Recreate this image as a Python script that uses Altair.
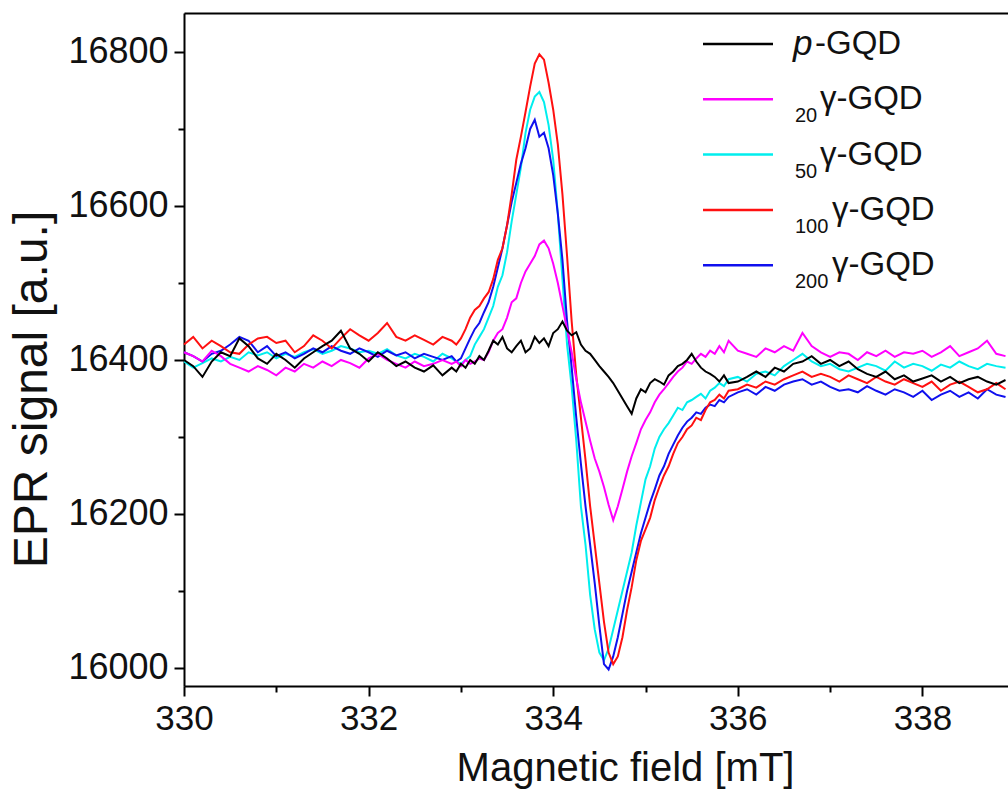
import altair as alt
import numpy as np
import pandas as pd

# ---- sampling positions (magnetic field, mT) ----
field = list(np.round(np.concatenate([
    np.arange(330.0, 332.85, 0.1),      # 330.0 .. 332.8
    np.arange(332.9, 335.925, 0.05),    # 332.9 .. 335.9
    np.arange(336.0, 338.95, 0.1),      # 336.0 .. 338.9
]), 2))

# ---- EPR signal values ----
p_gqd = [
    16400, 16392, 16378, 16398, 16410, 16405, 16428, 16418, 16402, 16395,
    16408, 16400, 16390, 16402, 16410, 16418, 16425, 16438, 16415, 16408,
    16398, 16410, 16402, 16392, 16398, 16390, 16385, 16393, 16380,
    16390, 16385, 16395, 16390, 16400, 16395, 16405, 16400, 16412, 16425,
    16420, 16430, 16415, 16410, 16418, 16425, 16410, 16415, 16430, 16422,
    16428, 16418, 16435, 16440, 16450, 16438, 16432, 16436, 16420, 16412,
    16408, 16400, 16392, 16385, 16378, 16370, 16360, 16350, 16340, 16330,
    16350, 16362, 16358, 16370, 16375, 16372, 16368, 16380, 16385, 16392,
    16395, 16400, 16408, 16398, 16390, 16385, 16382, 16378, 16372, 16380,
    16370,
    16372, 16378, 16385, 16378, 16390, 16385, 16395, 16398, 16405, 16395,
    16400, 16392, 16398, 16388, 16382, 16378, 16385, 16375, 16380, 16372,
    16376, 16380, 16372, 16378, 16370, 16375, 16378, 16372, 16368, 16374,
]
g20 = [
    16410, 16405, 16398, 16412, 16405, 16395, 16390, 16385, 16392, 16387,
    16380, 16390, 16385, 16395, 16390, 16398, 16392, 16400, 16396, 16390,
    16402, 16408, 16400, 16395, 16390, 16398, 16392, 16395, 16400,
    16395, 16398, 16392, 16400, 16395, 16398, 16402, 16400, 16410, 16425,
    16435, 16440, 16455, 16475, 16480, 16500, 16515, 16525, 16535, 16550,
    16555, 16545, 16525, 16500, 16470, 16440, 16410, 16375, 16345, 16320,
    16295, 16272, 16255, 16235, 16212, 16192, 16210, 16232, 16255, 16275,
    16292, 16310, 16322, 16332, 16345, 16355, 16362, 16370, 16378, 16385,
    16390, 16398, 16395, 16402, 16408, 16404, 16412, 16408, 16418, 16410,
    16425,
    16412, 16408, 16404, 16415, 16410, 16418, 16412, 16435, 16418, 16410,
    16404, 16410, 16408, 16400, 16410, 16405, 16412, 16404, 16410, 16408,
    16412, 16404, 16410, 16418, 16405, 16410, 16415, 16425, 16408, 16405,
]
g50 = [
    16398, 16390, 16396, 16402, 16398, 16404, 16400, 16410, 16406, 16410,
    16402, 16408, 16404, 16410, 16414, 16408, 16412, 16418, 16415, 16410,
    16412, 16408, 16414, 16406, 16402, 16408, 16404, 16398, 16408,
    16402, 16398, 16395, 16400, 16405, 16420, 16430, 16440, 16455, 16470,
    16495, 16510, 16540, 16580, 16615, 16650, 16695, 16725, 16742, 16748,
    16735, 16705, 16660, 16590, 16505, 16420, 16365, 16295, 16210, 16160,
    16095, 16050, 16020, 16010, 16025, 16050, 16075, 16100, 16125, 16150,
    16185, 16215, 16245, 16262, 16285, 16300, 16310, 16318, 16328, 16338,
    16335, 16345, 16348, 16352, 16356, 16350, 16360, 16364, 16370, 16366,
    16375,
    16378, 16372, 16382, 16385, 16380, 16392, 16400, 16408, 16398, 16392,
    16395, 16388, 16385, 16390, 16395, 16392, 16386, 16398, 16390, 16395,
    16392, 16386, 16394, 16390, 16398, 16392, 16388, 16395, 16392, 16390,
]
g100 = [
    16420, 16430, 16415, 16425, 16418, 16410, 16408, 16420, 16428, 16430,
    16422, 16425, 16410, 16418, 16432, 16425, 16415, 16428, 16440, 16432,
    16425, 16435, 16448, 16430, 16425, 16432, 16426, 16420, 16430,
    16425, 16420, 16428, 16440, 16455, 16465, 16470, 16480, 16488, 16505,
    16530, 16545, 16575, 16615, 16660, 16690, 16722, 16755, 16785, 16797,
    16790, 16760, 16725, 16680, 16615, 16535, 16450, 16380, 16325, 16270,
    16210, 16160, 16110, 16060, 16020, 16005, 16015, 16040, 16075, 16105,
    16140, 16165, 16180, 16195, 16218, 16235, 16250, 16262, 16278, 16292,
    16300, 16310, 16315, 16325, 16322, 16335, 16345, 16348, 16355, 16350,
    16360,
    16362, 16368, 16364, 16372, 16368, 16375, 16380, 16385, 16378, 16382,
    16378, 16372, 16380, 16375, 16370, 16378, 16372, 16368, 16375, 16370,
    16365, 16372, 16360, 16368, 16372, 16365, 16358, 16362, 16370, 16362,
]
g200 = [
    16410, 16405, 16398, 16408, 16412, 16420, 16430, 16425, 16410, 16418,
    16405, 16410, 16402, 16408, 16415, 16410, 16418, 16412, 16408, 16415,
    16410, 16404, 16412, 16406, 16410, 16402, 16408, 16404, 16400,
    16405, 16398, 16402, 16415, 16428, 16440, 16448, 16462, 16475, 16495,
    16520, 16545, 16575, 16605, 16630, 16655, 16675, 16700, 16712, 16690,
    16695, 16675, 16640, 16590, 16530, 16450, 16390, 16325, 16265, 16210,
    16160, 16110, 16055, 16005, 15998, 16015, 16040, 16070, 16100, 16125,
    16150, 16175, 16195, 16215, 16232, 16250, 16262, 16278, 16290, 16302,
    16312, 16320, 16325, 16332, 16330, 16338, 16342, 16340, 16348, 16345,
    16352,
    16358, 16362, 16355, 16365, 16360, 16368, 16372, 16375, 16368, 16372,
    16365, 16360, 16362, 16358, 16366, 16360, 16355, 16362, 16358, 16352,
    16360, 16348, 16355, 16360, 16352, 16358, 16350, 16362, 16355, 16352,
]

series_keys = ["p", "g20", "g50", "g100", "g200"]
series_vals = [p_gqd, g20, g50, g100, g200]
series_colors = ["#000000", "#ff00ff", "#00eeee", "#ff1010", "#1010ee"]
legend_lead = ["p", "", "", "", ""]
legend_sub = ["", "20", "50", "100", "200"]
legend_main = ["-GQD", "γ-GQD", "γ-GQD", "γ-GQD", "γ-GQD"]

x_ticks = [330, 332, 334, 336, 338]
x_minor = [331, 333, 335, 337]
y_ticks = [16000, 16200, 16400, 16600, 16800]
y_minor = [16100, 16300, 16500, 16700]

FONT = "Liberation Sans"
W, H = 824, 673
x_scale = alt.Scale(domain=[330, 338.927], nice=False, zero=False)
y_scale = alt.Scale(domain=[15976.6, 16850.6], nice=False, zero=False)

frames = []
for k, v in zip(series_keys, series_vals):
    frames.append(pd.DataFrame({"B": field, "S": v, "key": k}))
data = pd.concat(frames, ignore_index=True)

major_x = alt.Axis(values=x_ticks, format="d", title="Magnetic field [mT]", orient="bottom",
                   grid=False, tickSize=10, tickWidth=2, tickColor="#000", domainColor="#000",
                   domainWidth=2, labelFont=FONT, labelFontSize=35, labelColor="#111",
                   labelPadding=5, labelFlush=False, labelOverlap=False,
                   titleFont=FONT, titleFontSize=40, titleFontWeight="normal",
                   titleColor="#111", titleX=441, titleY=82, titleBaseline="middle")
major_y = alt.Axis(values=y_ticks, format="d", title="EPR signal [a.u.]", orient="left",
                   grid=False, tickSize=10, tickWidth=2, tickColor="#000", domainColor="#000",
                   domainWidth=2, labelFont=FONT, labelFontSize=36, labelColor="#111",
                   labelPadding=6, labelFlush=False, labelOverlap=False,
                   titleFont=FONT, titleFontSize=48, titleFontWeight="normal",
                   titleColor="#111", titleX=-152, titleY=376, titleBaseline="middle",
                   titleAngle=270)
minor_x = alt.Axis(values=x_minor, labels=False, title=None, orient="bottom", grid=False,
                   tickSize=6, tickWidth=2, tickColor="#000", domain=False)
minor_y = alt.Axis(values=y_minor, labels=False, title=None, orient="left", grid=False,
                   tickSize=6, tickWidth=2, tickColor="#000", domain=False)
top_x = alt.Axis(values=[], labels=False, ticks=False, title=None, orient="top", grid=False,
                 domainColor="#000", domainWidth=2)

draw_order = ["g50", "g200", "g100", "g20", "p"]
layers = []
for i, k in enumerate(draw_order):
    c = series_colors[series_keys.index(k)]
    layers.append(
        alt.Chart(data).transform_filter(alt.datum.key == k).mark_line(
            strokeWidth=2, color=c, interpolate="linear"
        ).encode(
            x=alt.X("B:Q", scale=x_scale, axis=major_x if i == 0 else None),
            y=alt.Y("S:Q", scale=y_scale, axis=major_y if i == 0 else None),
        )
    )

# minor ticks & top frame (invisible marks carrying axes)
layers.append(
    alt.Chart(data).transform_filter(alt.datum.key == "p").mark_point(opacity=0).encode(
        x=alt.X("B:Q", scale=x_scale, axis=minor_x),
        y=alt.Y("S:Q", scale=y_scale, axis=minor_y),
    )
)
layers.append(
    alt.Chart(data).transform_filter(alt.datum.key == "p").mark_point(opacity=0).encode(
        x=alt.X("B:Q", scale=x_scale, axis=top_x),
        y=alt.Y("S:Q", scale=y_scale, axis=None),
    )
)

# ---- custom legend (pixel positions relative to the plot area) ----
leg = pd.DataFrame({
    "key": series_keys, "lead": legend_lead, "sub": legend_sub,
    "main": legend_main, "i": list(range(5)),
})
leg_base = alt.Chart(leg).transform_calculate(
    yc="31 + datum.i * 55.3",
    ys="31 + datum.i * 55.3 + 17",
    xm="612 + length(datum.sub) * 12 + length(datum.lead) * 19",
)
color_scale = alt.Scale(domain=series_keys, range=series_colors)
layers.append(
    leg_base.mark_rule(strokeWidth=2.5).encode(
        x=alt.value(703 - 184), x2=alt.value(773 - 184),
        y=alt.Y("yc:Q", scale=None, axis=None),
        color=alt.Color("key:N", scale=color_scale, legend=None),
    )
)
layers.append(
    leg_base.mark_text(align="left", baseline="middle", font=FONT, fontSize=35,
                       fontStyle="italic", color="#111").encode(
        x=alt.value(793 - 184), y=alt.Y("yc:Q", scale=None, axis=None), text="lead:N",
    )
)
layers.append(
    leg_base.mark_text(align="left", baseline="middle", font=FONT, fontSize=20,
                       color="#111").encode(
        x=alt.value(795 - 184), y=alt.Y("ys:Q", scale=None, axis=None), text="sub:N",
    )
)
layers.append(
    leg_base.mark_text(align="left", baseline="middle", font=FONT, fontSize=33,
                       color="#111").encode(
        x=alt.X("xm:Q", scale=None, axis=None), y=alt.Y("yc:Q", scale=None, axis=None),
        text="main:N",
    )
)

chart = alt.layer(*layers).resolve_axis(x="independent", y="independent").properties(
    width=W, height=H,
    autosize=alt.AutoSizeParams(type="none"),
    padding={"left": 184, "top": 13, "right": 0, "bottom": 104},
).configure_view(stroke=None).configure(background="white")

chart.save("out.html", embed_options={"renderer": "svg", "actions": False})
